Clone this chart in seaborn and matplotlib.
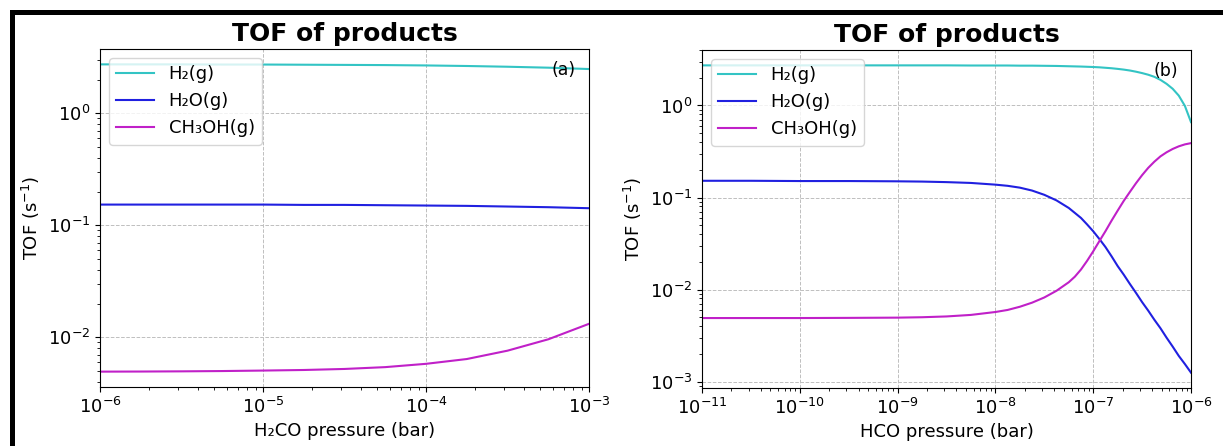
import numpy as np
import pandas as pd
import seaborn as sns
import matplotlib.pyplot as plt
from matplotlib.patches import Rectangle

# panel (a): H2CO pressure, log10 of bar
h2co_exp = [-6, -5.75, -5.5, -5.25, -5, -4.75, -4.5, -4.25, -4, -3.75, -3.5, -3.25, -3]
a_h2 = [2.73, 2.73, 2.73, 2.72, 2.72, 2.71, 2.70, 2.69, 2.67, 2.64, 2.60, 2.55, 2.48]
a_h2o = [0.153, 0.153, 0.153, 0.153, 0.153, 0.152, 0.152, 0.151, 0.150, 0.149, 0.147, 0.145, 0.142]
a_ch3oh = [0.00494, 0.00495, 0.00497, 0.00500, 0.00505, 0.00511, 0.00522, 0.00542,
           0.00580, 0.00640, 0.00760, 0.00960, 0.0132]

# panel (b): HCO pressure, log10 of bar
hco_exp = [-11, -10.5, -10, -9.5, -9, -8.75, -8.5, -8.25, -8, -7.875, -7.75, -7.625,
           -7.5, -7.375, -7.25, -7.1875, -7.125, -7.0625, -7, -6.9375, -6.875,
           -6.8125, -6.75, -6.6875, -6.625, -6.5625, -6.5, -6.4375, -6.375, -6.3125,
           -6.25, -6.1875, -6.125, -6.0625, -6]
b_h2 = [2.73, 2.73, 2.73, 2.73, 2.73, 2.73, 2.73, 2.72, 2.72, 2.72, 2.71, 2.71,
        2.70, 2.69, 2.67, 2.66, 2.65, 2.635, 2.62, 2.60, 2.57, 2.54, 2.50, 2.455,
        2.40, 2.33, 2.25, 2.16, 2.05, 1.90, 1.72, 1.52, 1.28, 0.99, 0.66]
b_h2o = [0.152, 0.152, 0.151, 0.151, 0.150, 0.149, 0.147, 0.144, 0.138, 0.134, 0.128,
         0.119, 0.107, 0.093, 0.077, 0.068, 0.060, 0.051, 0.043, 0.0355, 0.029, 0.023,
         0.018, 0.0145, 0.0115, 0.0092, 0.0073, 0.0059, 0.0047, 0.0038, 0.0030,
         0.0024, 0.0019, 0.00155, 0.00125]
b_ch3oh = [0.0049, 0.0049, 0.0049, 0.00492, 0.00495, 0.0050, 0.0051, 0.0053, 0.0057,
           0.0060, 0.0065, 0.0072, 0.0082, 0.0097, 0.0120, 0.0138, 0.0165, 0.0205,
           0.026, 0.0335, 0.043, 0.056, 0.072, 0.092, 0.115, 0.143, 0.175, 0.21,
           0.245, 0.28, 0.31, 0.337, 0.36, 0.378, 0.39]

labels = ['H₂(g)', 'H₂O(g)', 'CH₃OH(g)']
colors = ['#33c4c4', '#2020e0', '#c020c8']

fig = plt.figure(figsize=(12.23, 4.46), dpi=100)
ax1 = fig.add_axes([100/1223, 1-387/446, 489/1223, 338/446])
ax2 = fig.add_axes([702/1223, 1-388/446, 489/1223, 338/446])

panels = [
    (ax1, h2co_exp, [a_h2, a_h2o, a_ch3oh], 'H₂CO pressure (bar)', '(a)'),
    (ax2, hco_exp, [b_h2, b_h2o, b_ch3oh], 'HCO pressure (bar)', '(b)'),
]

for ax, xexp, series, xlabel, tag in panels:
    x = 10 ** np.array(xexp, dtype=float)
    for lab, col, y in zip(labels, colors, series):
        df = pd.DataFrame({'p': x, 'tof': y})
        sns.lineplot(data=df, x='p', y='tof', ax=ax, color=col, label=lab,
                     linewidth=1.5, errorbar=None)
    ax.set_xscale('log')
    ax.set_yscale('log')
    ax.set_xlim(x[0], x[-1])
    ax.grid(True, which='major', linestyle='--', color='0.75', linewidth=0.7)
    ax.set_title('TOF of products', fontsize=18, fontweight='bold')
    ax.set_xlabel(xlabel, fontsize=13)
    ax.set_ylabel(r'TOF (s$^{-1}$)', fontsize=13)
    ax.tick_params(labelsize=13)
    ax.legend(loc='upper left', fontsize=13, handlelength=2.1)
    ax.text(0.973, 0.938, tag, transform=ax.transAxes, ha='right', va='center',
            fontsize=12.5)

# black frame edges from the screenshot
fig.add_artist(Rectangle((10/1223, 1-15/446), 1-10/1223, 5/446,
                         transform=fig.transFigure, color='black', lw=0))
fig.add_artist(Rectangle((10/1223, 0), 5/1223, 1-10/446,
                         transform=fig.transFigure, color='black', lw=0))

fig.savefig('out.png', dpi=100)
